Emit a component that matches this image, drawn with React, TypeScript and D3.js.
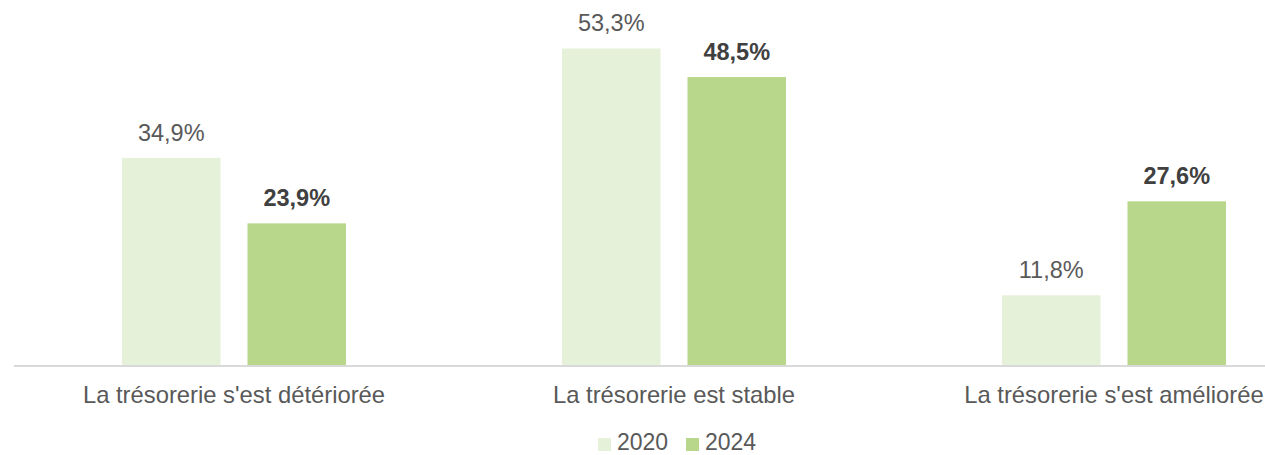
import React from "react";
import * as d3 from "d3";

const categories = [
  "La trésorerie s'est détériorée",
  "La trésorerie est stable",
  "La trésorerie s'est améliorée",
];
const seriesNames = ["2020", "2024"];
const values2020 = [34.9, 53.3, 11.8];
const values2024 = [23.9, 48.5, 27.6];
const seriesValues = [values2020, values2024];
const colors = ["#e6f1d9", "#b9d78b"];

const W = 1265;
const H = 455;
const FONT = "'Liberation Sans', Arial, sans-serif";

export default function App() {
  const x = d3.scaleBand<string>().domain(categories).range([14, 1334]).padding(0);
  const groupW = 224;
  const xi = d3
    .scaleBand<string>()
    .domain(seriesNames)
    .range([(x.bandwidth() - groupW) / 2, (x.bandwidth() + groupW) / 2])
    .paddingInner(0.215)
    .paddingOuter(0);
  const baseY = 365.5;
  const y = d3.scaleLinear().domain([0, 60]).range([baseY, baseY - 60 * 5.948]);
  const fmt = (v: number) => d3.format(".1f")(v).replace(".", ",") + "%";

  return (
    <svg
      width={W}
      height={H}
      style={{ position: "absolute", left: 0, top: 0, background: "#fff" }}
      fontFamily={FONT}
    >
      {categories.map((c, ci) => (
        <g key={c} transform={`translate(${x(c)},0)`}>
          {seriesNames.map((s, si) => {
            const v = seriesValues[si][ci];
            const bx = xi(s)!;
            return (
              <g key={s}>
                <rect
                  x={bx}
                  y={y(v)}
                  width={xi.bandwidth()}
                  height={baseY - y(v)}
                  fill={colors[si]}
                />
                <text
                  x={bx + xi.bandwidth() / 2}
                  y={y(v) - 17}
                  textAnchor="middle"
                  fontSize={23.5}
                  fontWeight={si === 1 ? "bold" : "normal"}
                  fill={si === 1 ? "#404040" : "#595959"}
                >
                  {fmt(v)}
                </text>
              </g>
            );
          })}
          <text
            x={x.bandwidth() / 2}
            y={403}
            textAnchor="middle"
            fontSize={23.8}
            fill="#595959"
          >
            {c}
          </text>
        </g>
      ))}
      <line x1={14} x2={W} y1={baseY + 0.5} y2={baseY + 0.5} stroke="#d9d9d9" strokeWidth={2} />
      {seriesNames.map((s, si) => {
        const lx = 598 + si * 88;
        return (
          <g key={s}>
            <rect x={lx} y={438} width={13} height={13} fill={colors[si]} />
            <text x={lx + 19} y={450} fontSize={23} fill="#595959">
              {s}
            </text>
          </g>
        );
      })}
    </svg>
  );
}
